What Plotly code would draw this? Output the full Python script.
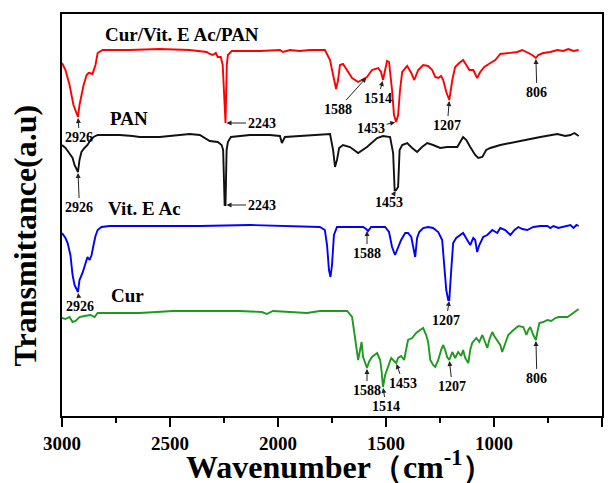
import numpy as np
import plotly.graph_objects as go

# ---------------- data (wavenumber in cm-1, transmittance in a.u.) ----------------
wn_red = [3000, 2984, 2965, 2947, 2926, 2919, 2900, 2886, 2877, 2872, 2859, 2845, 2835, 2812, 2687, 2548,
          2409, 2330, 2316, 2302, 2288, 2279, 2265, 2256, 2243, 2237, 2232, 2214, 2084, 1991, 1977, 1945,
          1899, 1852, 1783, 1759, 1745, 1731, 1722, 1713, 1699, 1690, 1657, 1629, 1611, 1588, 1565, 1536,
          1523, 1514, 1504, 1495, 1486, 1472, 1463, 1453, 1444, 1435, 1425, 1402, 1383, 1369, 1351, 1328,
          1305, 1286, 1272, 1258, 1245, 1235, 1221, 1207, 1193, 1180, 1161, 1143, 1128, 1114, 1096, 1078,
          1064, 1045, 1017, 994, 971, 938, 892, 869, 841, 823, 806, 795, 772, 739, 707, 679, 656, 632, 608]
t_red = [353, 346, 331, 311, 299, 311, 331, 341, 343, 343, 342, 351, 363, 366, 366, 367,
         366, 364, 362, 361, 363, 359, 359, 351, 293, 351, 361, 365, 365, 366, 364, 366,
         365, 366, 366, 356, 341, 327, 336, 351, 352, 349, 338, 334, 336, 339, 346, 348,
         344, 336, 346, 355, 354, 326, 301, 294, 301, 326, 344, 350, 343, 336, 346, 351,
         350, 346, 339, 338, 340, 336, 324, 316, 336, 349, 353, 356, 351, 346, 346, 338,
         344, 349, 353, 356, 362, 363, 364, 366, 363, 361, 358, 361, 363, 364, 366, 365, 367, 365, 366]

wn_black = [3000, 2984, 2970, 2961, 2951, 2942, 2926, 2919, 2910, 2896, 2882, 2868, 2854, 2835, 2733, 2673,
            2641, 2548, 2455, 2409, 2362, 2339, 2316, 2279, 2261, 2254, 2247, 2243, 2238, 2232, 2218, 2130,
            2038, 1991, 1982, 1968, 1899, 1806, 1759, 1745, 1736, 1727, 1717, 1699, 1667, 1629, 1606, 1588,
            1541, 1514, 1481, 1467, 1460, 1453, 1444, 1437, 1425, 1402, 1379, 1356, 1333, 1309, 1282, 1249,
            1217, 1170, 1143, 1128, 1110, 1087, 1073, 1054, 1036, 1017, 971, 910, 855, 785, 739, 707,
            670, 646, 628, 608]
t_black = [271, 268, 264, 261, 258, 251, 244, 256, 264, 268, 271, 276, 279, 281, 281, 280,
           279, 279, 281, 282, 281, 278, 275, 274, 271, 266, 211, 211, 266, 274, 279, 281,
           281, 280, 273, 279, 280, 281, 282, 266, 249, 256, 268, 271, 269, 263, 266, 269,
           278, 280, 279, 263, 226, 226, 229, 266, 271, 273, 268, 264, 269, 273, 271, 268,
           269, 269, 279, 276, 269, 261, 258, 259, 266, 268, 271, 274, 276, 279, 281, 282,
           280, 281, 283, 280]

wn_blue = [3000, 2984, 2974, 2961, 2951, 2942, 2926, 2919, 2905, 2891, 2882, 2872, 2863, 2854, 2845, 2835,
           2817, 2780, 2594, 2362, 2130, 1899, 1806, 1783, 1773, 1764, 1757, 1750, 1741, 1727, 1667, 1606,
           1592, 1588, 1583, 1569, 1504, 1486, 1472, 1458, 1444, 1430, 1411, 1398, 1383, 1374, 1365, 1356,
           1346, 1328, 1305, 1282, 1258, 1240, 1231, 1221, 1212, 1207, 1198, 1189, 1175, 1161, 1143, 1124,
           1110, 1096, 1087, 1078, 1068, 1050, 1031, 1008, 985, 971, 948, 924, 905, 887, 869, 846,
           818, 785, 753, 739, 725, 702, 679, 660, 646, 632, 618, 608]
t_blue = [183, 178, 173, 161, 141, 131, 124, 136, 143, 153, 159, 156, 161, 171, 180, 186,
          189, 190, 190, 190, 191, 190, 189, 186, 171, 146, 139, 151, 181, 189, 189, 189,
          187, 186, 185, 189, 189, 184, 169, 161, 168, 176, 183, 183, 179, 168, 159, 178,
          184, 188, 189, 188, 184, 176, 154, 126, 116, 116, 146, 173, 178, 180, 183, 176,
          171, 178, 176, 164, 171, 179, 181, 186, 183, 188, 186, 181, 186, 189, 187, 186,
          189, 190, 190, 188, 190, 188, 189, 190, 191, 188, 191, 190]

wn_green = [3000, 2984, 2965, 2951, 2937, 2919, 2896, 2868, 2849, 2835, 2780, 2710, 2641, 2562, 2487, 2330,
            2177, 2075, 2052, 2024, 1945, 1866, 1806, 1713, 1680, 1657, 1643, 1629, 1620, 1613, 1606, 1592,
            1588, 1579, 1565, 1541, 1527, 1520, 1514, 1504, 1490, 1476, 1467, 1453, 1444, 1430, 1416, 1407,
            1398, 1379, 1360, 1342, 1328, 1314, 1305, 1295, 1282, 1272, 1258, 1245, 1235, 1226, 1217, 1207,
            1193, 1180, 1166, 1152, 1143, 1133, 1119, 1110, 1101, 1082, 1068, 1054, 1040, 1031, 1022, 1008,
            999, 985, 971, 962, 948, 934, 910, 887, 864, 850, 841, 832, 818, 806, 799, 790,
            772, 753, 735, 716, 702, 683, 660, 646, 632, 618, 608]
t_green = [98, 97, 99, 94, 95, 99, 100, 101, 99, 103, 103, 103, 103, 104, 105, 105,
           105, 104, 102, 105, 104, 103, 105, 105, 105, 99, 76, 56, 66, 74, 59, 51,
           48, 54, 59, 63, 56, 44, 29, 41, 49, 58, 56, 53, 58, 60, 56, 68,
           76, 78, 83, 86, 88, 81, 74, 56, 51, 49, 56, 66, 71, 66, 59, 56,
           64, 58, 64, 60, 66, 58, 53, 66, 73, 78, 74, 81, 73, 68, 76, 84,
           80, 76, 71, 64, 73, 81, 86, 90, 89, 81, 86, 89, 81, 76, 84, 93,
           94, 96, 95, 98, 99, 99, 99, 101, 103, 105, 107]

series_names = ["Cur/Vit. E Ac/PAN", "PAN", "Vit. E Ac", "Cur"]
series_colors = ["#ff0000", "#111111", "#0000ff", "#1e9a1e"]

# peak labels per series
peaks_red = ["2926", "2243", "1588", "1514", "1453", "1207", "806"]
peaks_black = ["2926", "2243", "1453"]
peaks_blue = ["2926", "1588", "1207"]
peaks_green = ["1588", "1514", "1453", "1207", "806"]

x_ticks = [3000, 2500, 2000, 1500, 1000, 500]

# ---------------- figure ----------------
series = [(wn_red, t_red), (wn_black, t_black), (wn_blue, t_blue), (wn_green, t_green)]
fig = go.Figure()
for (wx, ty), name, col in zip(series, series_names, series_colors):
    fig.add_trace(go.Scatter(x=wx, y=ty, mode="lines", name=name,
                             line=dict(color=col, width=1.9), showlegend=False))

SERIF = "Liberation Serif, Times New Roman, serif"

# series name labels (position style)
name_pos = [(2445, 382), (2692, 298), (2617, 208), (2699, 121)]
for name, (nx, ny) in zip(series_names, name_pos):
    fig.add_annotation(x=nx, y=ny, text="<b>%s</b>" % name, showarrow=False,
                       font=dict(family=SERIF, size=19, color="black"))

# arrow offsets (pixel style) per label
offs_red = [(1.5, 20), (36, 0), (-29, 32), (-5, 18), (-25, 6), (-2, 25), (1, 34)]
offs_black = [(1.5, 35), (36, 0), (-7, 12)]
offs_blue = [(2, 14), (0, 23), (-3, 20)]
offs_green = [(0, 22), (3, 19), (7, 20), (3, 26), (1, 38)]


def add_peaks(idx, labels, offs):
    wx, ty = series[idx]
    xs = np.array(wx[::-1], dtype=float)
    ys = np.array(ty[::-1], dtype=float)
    for lab, (ax, ay) in zip(labels, offs):
        w = float(lab)
        fig.add_annotation(x=w, y=float(np.interp(w, xs, ys)), text="<b>%s</b>" % lab,
                           showarrow=True, arrowhead=2, arrowsize=1, arrowwidth=1,
                           arrowcolor="#222222", standoff=1, ax=ax, ay=ay,
                           font=dict(family=SERIF, size=14, color="black"))


add_peaks(0, peaks_red, offs_red)
add_peaks(1, peaks_black, offs_black)
add_peaks(2, peaks_blue, offs_blue)
add_peaks(3, peaks_green, offs_green)

# axis titles as annotations
fig.add_annotation(xref="paper", yref="paper", x=0.515, y=-0.121, xanchor="center", yanchor="middle",
                   text="<b>Wavenumber（cm<sup>-1</sup>）</b>", showarrow=False,
                   font=dict(family=SERIF, size=32, color="black"))
fig.add_annotation(xref="paper", yref="paper", x=-0.068, y=0.45, xanchor="center", yanchor="middle",
                   text="<b>Transmittance(a.u)</b>", textangle=-90, showarrow=False,
                   font=dict(family=SERIF, size=32, color="black"))

fig.update_layout(
    width=616, height=483,
    margin=dict(l=62, r=14, t=14, b=67),
    paper_bgcolor="white", plot_bgcolor="white",
    xaxis=dict(range=[3000, 500], tickvals=x_ticks, ticktext=["<b>%d</b>" % v for v in x_ticks],
               ticks="outside", ticklen=9, tickwidth=1.5, tickcolor="black",
               minor=dict(dtick=250, tick0=500, ticks="outside", ticklen=5, tickwidth=1.5,
                          tickcolor="black", showgrid=False),
               showline=True, linewidth=1.5, linecolor="black", mirror=True,
               showgrid=False, zeroline=False,
               tickfont=dict(family=SERIF, size=19, color="black")),
    yaxis=dict(range=[0, 402], showticklabels=False, ticks="", showgrid=False, zeroline=False,
               showline=True, linewidth=1.5, linecolor="black", mirror=True),
)

fig.write_html("out.html", config={"displayModeBar": False},
               post_script="document.body.style.margin='0';document.body.style.padding='0';")
